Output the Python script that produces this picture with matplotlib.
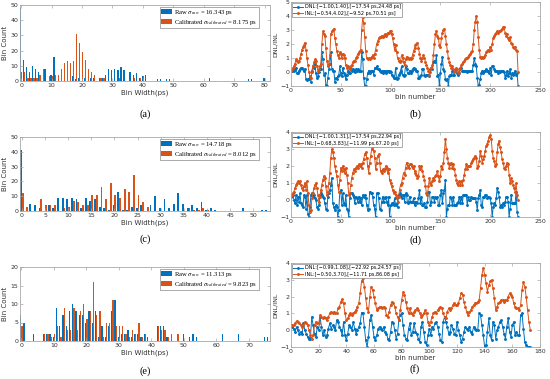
import numpy as np
import matplotlib
matplotlib.use("Agg")
import matplotlib.pyplot as plt

plt.rcParams['font.family'] = ['DejaVu Sans']
plt.rcParams['mathtext.fontset'] = 'stix'

BLUE = '#0072BD'
ORANGE = '#D95319'

# ---------------- histogram data (count per 1 ps bin) ----------------
a_raw = [48, 14, 9, 6, 10, 8, 6, 0, 8, 0,
         4, 16, 0, 0, 0, 0, 0, 3, 1, 2,
         0, 2, 0, 2, 2, 0, 2, 2, 4, 8,
         7, 8, 7, 9, 7, 0, 6, 4, 5, 2,
         3, 4, 0, 0, 0, 1, 1, 0, 1, 1,
         0, 0, 0, 0, 0, 0, 0, 0, 0, 0,
         0, 0, 2, 0, 0, 0, 0, 0, 0, 0,
         0, 0, 0, 0, 0, 1, 1, 0, 0, 0,
         2]
a_cal = [6, 6, 2, 2, 2, 2, 4, 8, 0, 3,
         3, 4, 4, 8, 12, 13, 12, 13, 31, 25,
         19, 14, 8, 6, 4, 0, 2, 2, 0, 0,
         0, 0, 2, 0, 0, 0, 0, 2, 0, 2,
         3, 0, 0, 0, 0, 0, 0, 0, 0, 0,
         0, 0, 0, 0, 0, 0, 0, 0, 0, 0,
         0, 0, 0, 0, 0, 0, 0, 0, 0, 0,
         0, 0, 0, 0, 0, 0, 0, 0, 0, 0,
         0]

c_raw = [41, 0, 5, 4, 2, 0, 4, 2, 9, 9,
         8, 9, 8, 2, 9, 7, 8, 3, 2, 1,
         4, 13, 1, 1, 3, 2, 4, 0, 4, 10,
         2, 8, 2, 5, 12, 5, 2, 4, 2, 6,
         1, 2, 1, 0, 0, 0, 0, 0, 2, 0,
         0, 0, 1, 1]
c_cal = [12, 3, 0, 0, 8, 4, 4, 4, 0, 2,
         3, 7, 6, 4, 4, 11, 11, 16, 8, 19,
         11, 9, 15, 13, 24, 11, 6, 3, 0, 0,
         0, 0, 0, 0, 0, 0, 2, 1, 1, 2,
         1, 0, 0, 0, 0, 0, 0, 0, 0, 0,
         0, 0, 0, 0]

e_raw = [7, 5, 0, 0, 2, 0, 0, 2, 2, 2,
         1, 9, 4, 7, 4, 8, 10, 8, 7, 7,
         5, 8, 5, 8, 1, 4, 1, 4, 8, 11,
         1, 2, 2, 3, 1, 2, 2, 1, 2, 1,
         0, 0, 4, 4, 4, 1, 0, 0, 0, 0,
         2, 0, 1, 2, 1, 0, 0, 0, 0, 0,
         0, 0, 2, 0, 0, 0, 0, 2, 0, 0,
         0, 0, 0, 0, 0, 1, 1]
e_cal = [4, 0, 0, 0, 0, 0, 0, 2, 2, 1,
         2, 4, 1, 9, 3, 3, 9, 3, 8, 10,
         6, 8, 16, 7, 8, 1, 5, 5, 11, 4,
         4, 4, 2, 1, 3, 2, 5, 1, 2, 0,
         0, 0, 4, 3, 3, 1, 2, 0, 2, 0,
         0, 0, 0, 0, 0, 0, 0, 0, 0, 0,
         0, 0, 0, 0, 0, 0, 0, 0, 0, 0,
         0, 0, 0, 0, 0, 0, 0]

hist_legends = [
    (r'Raw $\sigma_{raw}$ = 16.343 ps', r'Calibrated $\sigma_{calibrated}$ = 8.175 ps'),
    (r'Raw $\sigma_{raw}$ = 14.718 ps', r'Calibrated $\sigma_{calibrated}$ = 8.012 ps'),
    (r'Raw $\sigma_{raw}$ = 11.313 ps', r'Calibrated $\sigma_{calibrated}$ = 9.823 ps'),
]

# ---------------- DNL / INL data (LSB per bin) ----------------
b_inl = [0.1, 0.2, 0.3, 0.4, 0.6, 0.9, 0.8, 0.7, 0.8, 1.0,
         1.3, 1.6, 1.8, 1.9, 2.1, 1.6, 1.0, 0.5, 0.0, -0.3,
         -0.4, 0.0, 0.4, 0.7, 0.9, 0.8, 0.4, 0.1, 0.2, 0.4,
         0.6, 2.0, 2.9, 2.7, 2.6, 1.7, 0.8, 0.4, 0.6, 1.2,
         2.7, 2.9, 3.0, 3.1, 2.4, 2.0, 1.5, 1.2, 1.0, 1.4,
         1.3, 1.0, 1.3, 1.2, 1.0, 0.5, 0.3, 0.4, 0.3, 0.2,
         0.4, 0.5, 0.7, 0.8, 0.8, 1.0, 1.1, 1.3, 1.4, 1.5,
         1.6, 3.0, 3.9, 3.5, 2.5, 1.5, 1.0, 0.9, 1.0, 0.9,
         1.0, 1.1, 1.2, 1.0, 1.3, 1.6, 2.0, 2.2, 2.4, 2.5,
         2.5, 2.6, 2.5, 2.6, 2.7, 2.6, 2.7, 2.8, 2.8, 2.9,
         2.9, 2.7, 2.4, 2.0, 1.6, 1.9, 1.4, 1.0, 0.8, 0.7,
         0.8, 1.2, 1.0, 0.7, 0.5, 0.9, 1.1, 1.0, 0.9, 1.0,
         0.9, 1.0, 1.2, 1.5, 1.7, 1.9, 2.0, 2.1, 1.7, 1.3,
         1.0, 0.8, 1.0, 1.2, 1.0, 0.7, 0.5, 0.3, 0.1, -0.2,
         0.0, 0.3, 0.5, 1.2, 2.0, 2.7, 2.9, 2.6, 2.4, 1.9,
         1.8, 2.4, 2.8, 3.0, 3.1, 2.6, 2.0, 1.5, 1.0, 0.7,
         0.5, 0.3, 0.4, 0.2, 0.0, 0.1, 0.3, 0.2, 0.0, -0.1,
         0.2, 0.5, 0.6, 0.7, 0.8, 0.9, 1.0, 1.0, 1.1, 1.2,
         1.3, 1.4, 1.5, 2.0, 3.0, 3.6, 4.0, 3.6, 2.5, 1.6,
         1.1, 1.0, 1.1, 1.0, 1.1, 1.2, 1.4, 1.5, 1.6, 1.5,
         1.8, 1.6, 2.0, 2.4, 2.6, 2.7, 2.8, 2.9, 2.8, 2.9,
         2.9, 3.0, 3.1, 3.2, 3.2, 2.8, 2.6, 2.7, 2.4, 2.3,
         2.5, 2.1, 2.0, 1.8, 1.7, 1.8, 1.6, 1.5, 0.0]
b_dnl = [0.1, 0.1, 0.2, 0.1, 0.2, 0.3, -0.1, -0.1, 0.1, 0.2,
         0.3, 0.3, 0.2, 0.1, 0.2, -0.5, -0.6, -0.5, -0.5, -0.3,
         -0.7, 0.1, 0.4, 0.3, 0.6, -0.1, -0.4, -0.3, 0.0, 0.2,
         0.2, 1.4, 0.9, -0.2, -0.1, -0.9, -1.0, -0.4, 0.2, 0.6,
         1.4, 0.2, 0.1, 0.1, -0.7, -0.4, -0.5, -0.3, -0.2, 0.4,
         -0.1, -0.3, 0.3, -0.1, -0.2, -0.5, -0.2, 0.1, -0.1, -0.1,
         0.2, 0.1, 0.2, 0.1, 0.0, 0.2, 0.1, 0.2, 0.1, 0.1,
         0.1, 1.4, 0.9, -0.4, -1.0, -1.0, -0.5, -0.1, 0.1, -0.1,
         0.1, 0.1, 0.1, -0.2, 0.3, 0.3, 0.4, 0.2, 0.2, 0.1,
         0.0, 0.1, -0.1, 0.1, 0.1, -0.1, 0.1, 0.1, 0.0, 0.1,
         0.0, -0.2, -0.3, -0.4, -0.4, 0.3, -0.5, -0.4, -0.2, -0.1,
         0.1, 0.4, -0.2, -0.3, -0.2, 0.4, 0.2, -0.1, -0.1, 0.1,
         -0.1, 0.1, 0.2, 0.3, 0.2, 0.2, 0.1, 0.1, -0.4, -0.4,
         -0.3, -0.2, 0.2, 0.2, -0.2, -0.3, -0.2, -0.2, -0.2, -0.3,
         0.2, 0.3, 0.2, 0.7, 0.8, 0.7, 1.2, -0.3, -0.2, -1.0,
         -0.1, 0.6, 1.1, 0.2, 0.1, -0.5, -0.6, -0.5, -1.0, -0.3,
         -0.2, -0.2, 0.1, -0.2, -0.2, 0.1, 0.2, -0.1, -0.2, -0.1,
         0.3, 0.3, 0.1, 0.1, 0.1, 0.1, 0.1, 0.0, 0.1, 0.1,
         0.1, 0.1, 0.1, 0.5, 1.0, 0.6, 0.4, -0.4, -1.0, -0.9,
         -0.5, -0.1, 0.1, -0.1, 0.1, 0.1, 0.2, 0.1, 0.1, -0.1,
         0.3, -0.2, 0.4, 0.4, 0.2, 0.1, 0.1, 0.1, -0.1, 0.1,
         0.0, 0.1, 0.1, 0.1, 0.0, -0.4, -0.2, 0.1, -0.3, -0.1,
         0.2, -0.4, -0.1, -0.2, -0.1, 0.1, -0.2, -0.1, -1.0]

d_inl = [0.3, 0.3, 0.4, 0.5, 0.7, 0.9, 1.0, 1.1, 1.0, 1.1,
         0.9, 0.7, 0.6, 0.8, 1.0, 0.6, 1.1, 0.4, -0.3, -0.7,
         -0.6, 0.1, 0.4, 0.7, 0.9, 1.0, 0.7, 0.3, -0.1, 0.2,
         0.6, 0.9, 1.2, 1.4, 1.3, 0.8, 0.3, 0.5, 1.0, 1.6,
         2.5, 3.0, 2.8, 2.5, 2.0, 1.7, 1.4, 0.9, 0.5, 1.2,
         1.9, 1.7, 2.0, 1.8, 1.6, 1.9, 1.5, 1.0, 0.3, 0.4,
         0.9, 1.3, 1.6, 1.8, 1.7, 1.9, 2.0, 1.9, 2.1, 2.0,
         2.1, 1.9, 2.2, 2.4, 2.7, 2.8, 2.5, 2.0, 1.6, 2.2,
         2.6, 3.0, 3.2, 2.9, 2.5, 1.8, 2.2, 2.6, 2.7, 2.2,
         1.7, 1.6, 1.8, 1.7, 1.8, 2.0, 1.9, 1.6, 1.8, 1.2,
         1.0, 0.8, 0.6, 0.4, 0.5, 0.3, 0.2, -0.1, 0.2, 0.6,
         0.9, 1.0, 1.3, 1.6, 1.5, 1.9, 2.2, 2.0, 1.9, 2.1,
         2.1, 2.0, 1.9, 2.0, 1.7, 1.6, 1.5, 1.3, 1.4, 2.0,
         1.8, 2.0, 1.7, 1.4, 1.2, 0.8, 0.4, 0.3, 0.8, 1.3,
         1.0, 0.9, 1.1, 1.3, 1.2, 1.4, 1.5, 1.7, 1.4, 1.1,
         1.4, 2.0, 1.8, 2.2, 2.8, 3.6, 3.0, 2.5, 2.2, 1.9,
         2.1, 2.2, 1.9, 2.1, 1.8, 1.5, 1.2, 1.0, 0.9, 1.1,
         0.9, 1.1, 0.9, 1.2, 1.5, 1.8, 2.1, 1.8, 2.0, 2.0,
         2.0, 2.2, 2.3, 2.4, 2.5, 2.6, 2.5, 1.9, 2.0, 2.3,
         2.9, 2.6, 2.2, 2.4, 2.6, 2.9, 3.2, 3.3, 3.5, 3.7,
         3.8, 3.6, 2.9, 2.5, 2.3, 2.0, 2.1, 2.8, 3.3, 3.5,
         3.1, 2.8, 2.4, 2.2, 1.9, 1.8, 2.0, 2.2, 2.1, 1.5,
         1.0, 1.3, 1.1, 0.9, 0.7, 0.5, 1.0, 0.3, 0.0]
d_dnl = [0.2, 0.3, 0.3, 0.0, -0.2, 0.3, -0.3, 0.2, -0.1, 0.4,
         -0.2, -0.3, -0.4, 0.3, 0.2, -0.5, 0.3, -0.8, -1.0, -0.4,
         0.3, 0.4, 0.2, 0.3, 0.1, 0.0, -0.4, -0.5, -0.3, 0.3,
         0.4, 0.3, 0.2, 0.1, -0.2, -0.5, -0.6, 0.2, 0.4, 0.6,
         0.9, 1.3, -0.2, -0.4, -0.6, -0.3, -0.4, -1.0, -0.6, 0.5,
         0.6, -0.3, 0.4, -0.2, -0.3, 0.3, -0.5, -0.6, -1.0, 0.1,
         0.4, 0.4, 0.3, 0.2, -0.2, 0.2, 0.1, -0.1, 0.2, -0.1,
         0.1, -0.3, 0.3, 0.2, 0.3, 0.1, -0.3, -0.6, -0.5, 0.5,
         0.4, 0.4, 0.2, -0.3, -0.5, -1.0, 0.4, 0.4, 0.1, -0.5,
         -0.6, -0.1, 0.2, -0.1, 0.1, 0.2, -0.1, -0.3, 0.2, -1.0,
         -0.3, -0.2, -0.2, -0.3, 0.1, -0.3, -0.2, -0.4, 0.3, 0.4,
         0.3, 0.1, 0.3, 0.3, -0.1, 0.4, 0.3, -0.2, -0.1, 0.2,
         -0.1, -0.1, -0.1, 0.1, -0.3, -0.1, -0.1, -0.2, 0.1, 0.6,
         -0.2, 0.2, -0.3, -0.3, -0.2, -0.4, -0.4, -0.1, 0.5, 0.5,
         -0.3, -0.1, 0.2, 0.2, -0.1, 0.2, 0.1, 0.2, -0.3, -0.3,
         0.3, 0.6, -0.2, 0.4, 0.6, 1.2, -1.0, -0.5, -0.3, -0.3,
         0.2, 0.1, -0.3, 0.2, -0.3, -0.3, -0.3, -0.2, -0.1, 0.2,
         -0.2, 0.2, -0.2, 0.3, 0.3, 0.3, 0.3, -0.3, 0.2, 0.0,
         0.0, 0.2, 0.1, 0.1, 0.1, 0.1, -0.1, -0.6, 0.1, 0.3,
         0.6, -0.3, -0.4, 0.2, 0.2, 0.3, 0.3, 0.1, 0.2, 0.2,
         0.1, -0.2, -1.0, -0.4, -0.2, -0.3, 0.1, 0.7, 0.5, 0.2,
         -0.4, -0.3, -0.4, -0.2, -0.3, -0.1, 0.2, 0.2, -0.1, -1.0,
         -0.5, 0.3, -0.2, -0.2, -0.2, -0.2, 0.5, -0.7, -1.0]

f_inl = [0.3, 0.3, 0.3, 0.4, 0.55, 0.5, 0.4, 0.3, 0.2, 0.3,
         0.5, 0.4, 0.3, 0.0, -0.3, -0.5, -0.3, 0.3, 0.5, 0.4,
         0.4, 0.9, 0.8, 0.7, 0.8, 0.7, 0.6, 0.8, 1.0, 1.1,
         1.0, 1.1, 1.0, 1.0, 1.3, 1.4, 1.7, 1.85, 1.6, 1.0,
         0.6, 0.7, 0.9, 1.0, 0.9, 1.0, 1.1, 1.2, 1.4, 1.6,
         2.2, 2.9, 3.1, 2.6, 1.9, 1.3, 1.1, 2.0, 2.6, 2.4,
         2.0, 1.6, 1.2, 1.3, 1.4, 1.4, 1.3, 1.4, 1.3, 0.9,
         0.8, 1.1, 1.5, 1.7, 1.6, 1.4, 1.0, 0.8, 0.6, 1.2,
         1.8, 2.25, 2.1, 1.7, 1.3, 1.0, 1.3, 1.0, 0.9, 1.1,
         1.2, 1.3, 1.2, 1.0, 0.8, 0.9, 1.0, 1.2, 1.0, 0.5,
         0.3, 0.5, 0.8, 1.0, 1.1, 1.0, 1.2, 1.3, 1.4, 1.3,
         1.0, 0.8, 0.7, 1.1, 1.3, 1.2, 1.3, 1.5, 1.6, 1.5,
         1.5, 1.6, 1.9, 2.2, 2.1, 1.7, 1.4, 1.1, 0.9, 1.1,
         1.2, 1.4, 1.5, 1.6, 1.6, 1.7, 1.8, 2.5, 3.3, 3.7,
         3.3, 2.8, 2.3, 2.7, 2.9, 3.0, 2.5, 1.9, 1.2, 1.4,
         1.6, 1.7, 1.8, 1.8, 1.7, 1.8, 1.8, 2.0, 2.2, 2.1,
         2.0, 1.6, 1.4, 1.3, 1.3, 1.2, 1.5, 2.4, 2.85, 2.6,
         2.0, 1.2, 0.5, 0.0]
f_dnl = [0.3, 0.2, 0.1, -0.1, 0.2, 0.0, -0.2, -0.1, -0.2, 0.4,
         0.0, -0.2, -0.4, -0.5, -0.5, 0.8, 0.3, -0.2, -0.4, 0.2,
         0.0, 0.8, 0.2, -0.3, 0.0, -0.4, -0.3, 0.1, 0.4, 0.1,
         0.3, 0.2, 0.0, 0.6, 0.5, 0.2, 0.0, -0.3, 0.5, -0.3,
         -0.6, -0.2, 0.3, 0.2, 0.0, 0.5, 0.1, -0.2, 0.0, 0.2,
         0.4, 1.05, 1.0, 0.2, -0.6, -1.0, -0.4, 0.6, 0.9, 0.2,
         -0.4, -0.6, -0.3, 0.1, 0.2, 0.1, 0.0, 0.2, -0.1, -0.2,
         -0.5, -0.6, -0.1, 0.5, 0.4, 0.0, -0.5, -0.2, 0.6, 0.9,
         1.0, 0.3, -0.3, -0.5, -0.6, 0.1, 0.4, -0.3, -0.1, 0.4,
         -0.1, -0.2, -0.5, -0.7, 0.2, 0.5, -0.1, -0.7, -0.9, -0.3,
         0.1, -0.3, 0.2, 0.1, 0.4, 0.5, 0.2, -0.2, -0.6, -0.7,
         0.5, 0.8, 0.5, 0.2, -0.2, -0.1, 0.3, 0.1, -0.2, -0.3,
         0.5, 0.0, -0.3, -0.7, -0.5, -0.1, 0.2, 0.1, 0.0, 0.2,
         -0.1, -0.2, 0.2, 0.1, 0.0, 0.0, 1.0, 0.9, 0.3, -0.3,
         -1.0, -0.9, -0.1, 0.7, -0.3, -0.6, 0.5, 0.3, -0.5, 0.0,
         0.2, 0.5, 0.6, 0.2, -0.2, -0.5, 0.2, 0.7, -0.1, -0.4,
         0.3, 0.5, -0.3, -0.1, -0.3, -0.3, 0.9, 1.0, 0.1, -0.7,
         -0.9, -1.0, -1.0, -1.0]

line_legends = [
    ('DNL:[\u22121.00,1.40],[\u221217.54 ps,24.48 ps]', 'INL:[\u22120.54,4.02],[\u22129.52 ps,70.51 ps]'),
    ('DNL:[\u22121.00,1.31],[\u221217.54 ps,22.94 ps]', 'INL:[\u22120.68,3.83],[\u221211.99 ps,67.20 ps]'),
    ('DNL:[\u22120.99,1.08],[\u221222.92 ps,24.57 ps]', 'INL:[\u22120.50,3.70],[\u221211.71 ps,86.08 ps]'),
]

W, H = 550, 379
fig = plt.figure(figsize=(W / 100, H / 100), dpi=100)


def px_axes(x0, y0, x1, y1):
    return fig.add_axes([x0 / W, 1 - y1 / H, (x1 - x0) / W, (y1 - y0) / H])


def style(ax):
    for s in ax.spines.values():
        s.set_color('#a8a8a8')
        s.set_linewidth(0.6)
    ax.tick_params(direction='in', length=2, width=0.5, labelsize=4.5,
                   colors='#a8a8a8', labelcolor='#333333', pad=1.2,
                   top=True, right=True)


def hist_panel(ax, raw, cal, leg, xmax, xstep, ymax, ystep):
    x = np.arange(len(raw))
    ax.bar(x - 0.2, raw, width=0.4, color=BLUE, label=leg[0])
    ax.bar(x + 0.2, cal, width=0.4, color=ORANGE, label=leg[1])
    ax.set_xlim(-0.4, xmax)
    ax.set_ylim(0, ymax)
    ax.set_xticks(np.arange(0, xmax, xstep))
    ax.set_yticks(np.arange(0, ymax + 1, ystep))
    style(ax)
    ax.set_xlabel('Bin Width(ps)', fontsize=5, labelpad=1, color='#333333')
    ax.set_ylabel('Bin Count', fontsize=5, labelpad=1.5, color='#333333')
    lg = ax.legend(loc='upper right', bbox_to_anchor=(0.955, 0.975),
                   prop={'family': 'Liberation Serif', 'size': 4.8},
                   handlelength=1.7, handleheight=0.8, borderpad=0.2, labelspacing=0.1,
                   handletextpad=0.3, borderaxespad=0.0, fancybox=False, framealpha=1)
    lg.get_frame().set_edgecolor('#888888')
    lg.get_frame().set_linewidth(0.5)


def line_panel(ax, dnl, inl, leg, xmax, xstep, ymin, ymax):
    ax.plot(np.arange(len(dnl)), dnl, '-', marker='.', color=BLUE, lw=0.7,
            ms=2.2, label=leg[0])
    ax.plot(np.arange(len(inl)), inl, '-', marker='.', color=ORANGE, lw=0.7,
            ms=2.2, label=leg[1])
    ax.set_xlim(0, xmax)
    ax.set_ylim(ymin, ymax)
    ax.set_xticks(np.arange(0, xmax + 1, xstep))
    ax.set_yticks(np.arange(ymin, ymax + 1, 1))
    style(ax)
    ax.set_xlabel('bin number', fontsize=5, labelpad=1, color='#333333')
    ax.set_ylabel('DNL/INL', fontsize=4.6, labelpad=2, color='#333333')
    lg = ax.legend(loc='upper left', fontsize=3.5, handlelength=2.0,
                   borderpad=0.25, labelspacing=0.25, handletextpad=0.3,
                   borderaxespad=0.25, fancybox=False, framealpha=1)
    lg.get_frame().set_edgecolor('#888888')
    lg.get_frame().set_linewidth(0.5)


ax_a = px_axes(20, 5, 270, 81)
hist_panel(ax_a, a_raw, a_cal, hist_legends[0], 81.8, 10, 50, 10)
ax_c = px_axes(20, 137, 270, 211)
hist_panel(ax_c, c_raw, c_cal, hist_legends[1], 53.6, 5, 50, 10)
ax_e = px_axes(20, 267, 270, 341)
hist_panel(ax_e, e_raw, e_cal, hist_legends[2], 76.5, 10, 20, 5)

ax_b = px_axes(291, 2, 540, 86)
line_panel(ax_b, b_dnl, b_inl, line_legends[0], 250, 50, -1, 5)
ax_d = px_axes(291, 132, 540, 217)
line_panel(ax_d, d_dnl, d_inl, line_legends[1], 250, 50, -1, 4)
ax_f = px_axes(291, 263, 540, 347)
line_panel(ax_f, f_dnl, f_inl, line_legends[2], 180, 20, -1, 4)

panel_labels = ['(a)', '(b)', '(c)', '(d)', '(e)', '(f)']
label_pos = [(145, 114), (415, 114), (145, 239), (415, 240), (145, 371), (415, 369)]
for lab, (px, py) in zip(panel_labels, label_pos):
    fig.text(px / W, 1 - py / H, lab, ha='center', va='center',
             family='Liberation Serif', fontsize=7.5)

fig.savefig('out.png', dpi=100)
